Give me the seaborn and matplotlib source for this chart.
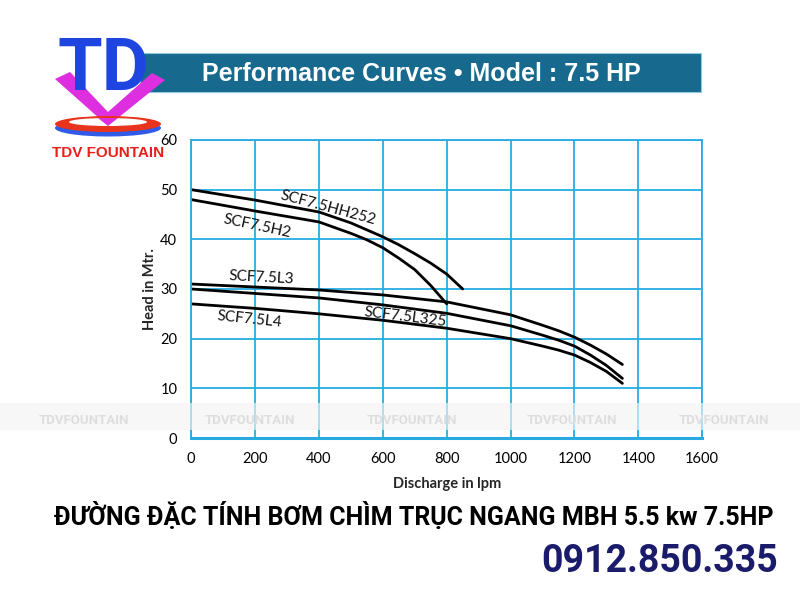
import numpy as np
import pandas as pd
import seaborn as sns
import matplotlib.pyplot as plt
from matplotlib.patches import Rectangle, Polygon, Ellipse

# curve data (discharge lpm -> head m)
x_hh252 = [0, 200, 400, 500, 600, 650, 700, 750, 800, 850]
y_hh252 = [50, 47.9, 45.5, 43.3, 40.5, 38.9, 37.1, 35.2, 33.0, 30]
x_h2 = [0, 200, 400, 500, 550, 600, 650, 700, 750, 800]
y_h2 = [48, 45.7, 43.5, 41.2, 39.9, 38.3, 36.2, 33.9, 30.7, 27]
x_low = [0, 200, 400, 600, 800, 1000, 1100, 1150, 1200, 1250, 1300, 1350]
y_l3 = [31, 30.4, 29.8, 28.8, 27.4, 24.8, 22.7, 21.6, 20.3, 18.7, 16.9, 14.8]
y_l325 = [30, 29.1, 28.2, 26.8, 25.1, 22.6, 20.7, 19.7, 18.5, 16.7, 14.6, 12]
y_l4 = [27, 26.1, 25.0, 23.7, 22.1, 20.0, 18.5, 17.7, 16.7, 15.2, 13.4, 11]

models = ["SCF7.5HH252", "SCF7.5H2", "SCF7.5L3", "SCF7.5L325", "SCF7.5L4"]
xs = [x_hh252, x_h2, x_low, x_low, x_low]
ys = [y_hh252, y_h2, y_l3, y_l325, y_l4]

rows = []
for m, xx, yy in zip(models, xs, ys):
    for a, b in zip(xx, yy):
        rows.append((m, a, b))
df = pd.DataFrame(rows, columns=["model", "discharge", "head"])

# label positions (x, y, rotation)
label_pos = {
    "SCF7.5HH252": (430, 46.4, -15),
    "SCF7.5H2": (207, 42.7, -12),
    "SCF7.5L3": (219, 32.3, -3),
    "SCF7.5L325": (670, 24.4, -7),
    "SCF7.5L4": (182, 23.8, -6),
}

sns.set_theme(style="white")
plt.rcParams['font.family'] = ['Lato', 'DejaVu Sans']

blue = '#29abe2'
fig = plt.figure(figsize=(8, 6), dpi=100)
ax = fig.add_axes([0.239, 0.27, 0.6388, 0.4967])
sns.lineplot(data=df, x="discharge", y="head", hue="model", units="model",
             estimator=None, palette=["black"] * 5, legend=False,
             linewidth=2.0, sort=False, ax=ax)
ax.set_xlim(0, 1600)
ax.set_ylim(0, 60)
ax.set_xticks(range(0, 1601, 200))
ax.set_yticks(range(0, 61, 10))
ax.grid(True, color=blue, linewidth=1.3)
for s in ax.spines.values():
    s.set_color(blue)
    s.set_linewidth(1.3)
ax.spines['bottom'].set_linewidth(2.2)
ax.tick_params(axis='both', direction='out', length=4, color=blue, width=1.2,
               labelsize=10.5, labelcolor='black', pad=6)
ax.set_xlabel("Discharge in lpm", fontsize=10.5, fontweight='bold', labelpad=8)
ax.set_ylabel("Head in Mtr.", fontsize=10.5, fontweight='bold', labelpad=2)
for m, (lx, ly, rot) in label_pos.items():
    ax.text(lx, ly, m, fontsize=11, rotation=rot, ha='center', va='center',
            color='#111111')

# overlay in pixel coords for banner, logo, watermark and captions
ov = fig.add_axes([0, 0, 1, 1], zorder=5)
ov.set_xlim(0, 800)
ov.set_ylim(600, 0)
ov.axis('off')
ov.patch.set_alpha(0)

ov.add_patch(Rectangle((140, 53), 561, 39, facecolor='#176a8e', edgecolor='#8fc8e0', linewidth=0.8))
ov.text(421, 74, "Performance Curves \u2022 Model : 7.5 HP", color='white', fontsize=18,
        fontweight='bold', family=['Liberation Sans', 'DejaVu Sans'], ha='center', va='center')

# logo
ov.text(103, 70, "TD", color='#1f45e0', fontsize=52, fontweight='bold',
        family=['Roboto', 'Liberation Sans'], ha='center', va='center')
ov.add_patch(Polygon([(55, 79), (70, 72), (108, 112), (152, 73), (165, 80), (108, 126)],
                     closed=True, facecolor='#dd2ee0', edgecolor='none'))
ov.add_patch(Ellipse((108, 128), 106, 17, facecolor='#2f5be8', edgecolor='none'))
ov.add_patch(Ellipse((108, 124), 106, 16, facecolor='#e8341c', edgecolor='none'))
ov.add_patch(Ellipse((108, 122), 78, 8, facecolor='white', edgecolor='none'))
ov.add_patch(Polygon([(98, 118), (108, 126), (118, 118)], closed=True, facecolor='#dd2ee0', edgecolor='none'))
ov.text(108, 153, "TDV FOUNTAIN", color='#e8201c', fontsize=11, fontweight='bold',
        family=['Liberation Sans', 'DejaVu Sans'], ha='center', va='center')

# watermark band
ov.add_patch(Rectangle((0, 403), 800, 27, facecolor='#f4f4f4', alpha=0.65, edgecolor='none'))
for wx in [84, 250, 412, 572, 724]:
    ov.text(wx, 420, "TDVFOUNTAIN", color='#dedede', fontsize=9.5, fontweight='bold',
            family=['Roboto', 'DejaVu Sans'], ha='center', va='center')

ov.text(414, 516, "ĐƯỜNG ĐẶC TÍNH BƠM CHÌM TRỤC NGANG MBH 5.5 kw 7.5HP", color='black',
        fontsize=18, fontweight='bold', family=['Roboto', 'Liberation Sans'],
        ha='center', va='center')
ov.text(660, 561, "0912.850.335", color='#1b1b6b', fontsize=27, fontweight='bold',
        family=['Roboto', 'Liberation Sans'], ha='center', va='center')

fig.savefig("out.png", dpi=100)
